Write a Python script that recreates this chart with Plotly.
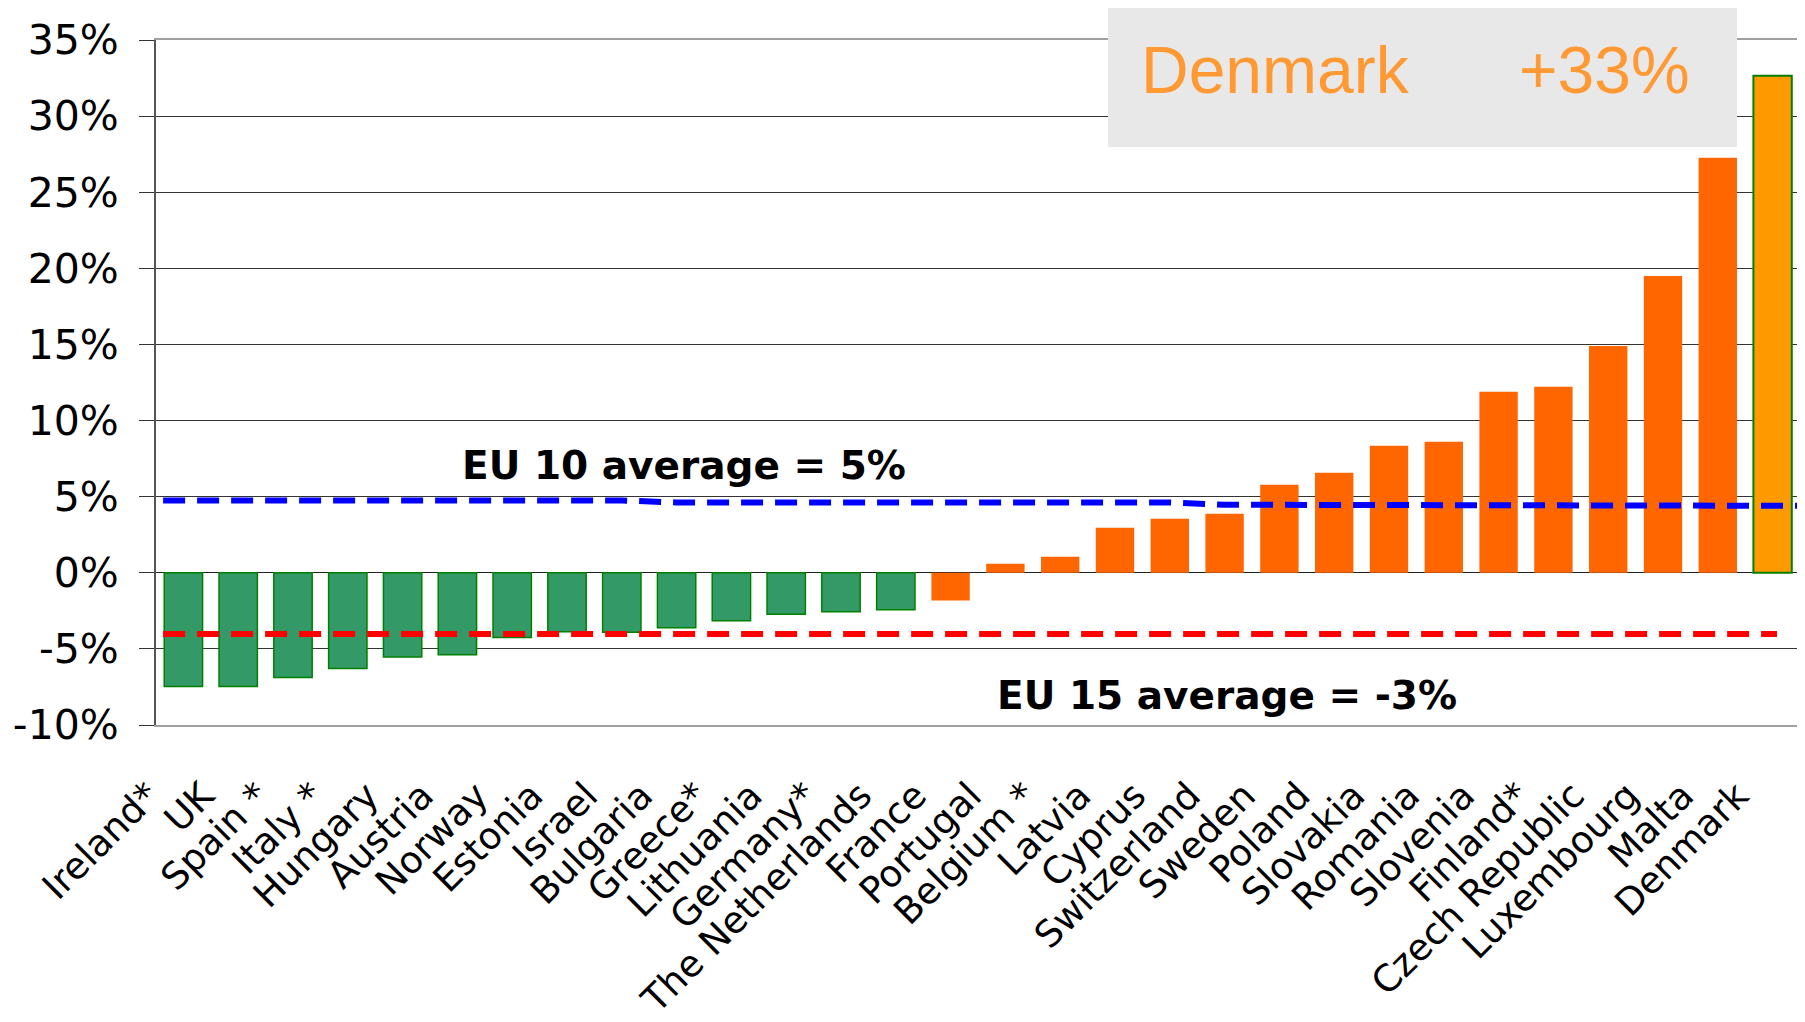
import plotly.graph_objects as go

countries = ["Ireland*", "UK", "Spain *", "Italy *", "Hungary", "Austria", "Norway",
             "Estonia", "Israel", "Bulgaria", "Greece*", "Lithuania", "Germany*",
             "The Netherlands", "France", "Portugal", "Belgium *", "Latvia", "Cyprus",
             "Switzerland", "Sweden", "Poland", "Slovakia", "Romania", "Slovenia",
             "Finland*", "Czech Republic", "Luxembourg", "Malta", "Denmark"]
values = [-7.47, -7.47, -6.88, -6.29, -5.54, -5.39, -4.25, -3.88, -3.90, -3.61,
          -3.15, -2.72, -2.56, -2.43, -1.82, 0.59, 1.05, 2.96, 3.55, 3.88,
          5.78, 6.57, 8.34, 8.60, 11.89, 12.22, 14.90, 19.50, 27.27, 32.65]
# group: 0 = falling (green), 1 = rising (orange), 2 = highlighted (Denmark)
groups = [0] * 14 + [1] * 15 + [2]

# dashed average lines as drawn in the picture (per category)
eu10_line = [4.75] * 9 + [4.62] * 10 + [4.47] * 10 + [4.40]
eu15_line = [-4.03] * 30

y_ticks = [-10, -5, 0, 5, 10, 15, 20, 25, 30, 35]
y_ticktext = ["-10%", "-5%", "0%", "5%", "10%", "15%", "20%", "25%", "30%", "35%"]

fill_cols = {0: "#339966", 1: "#FF6600", 2: "#FF9900"}
line_cols = {0: "#008000", 1: "#FF6600", 2: "#008000"}
line_wids = {0: 1.5, 1: 0, 2: 2}

idx = list(range(len(countries)))

fig = go.Figure()
fig.add_trace(go.Bar(
    x=idx, y=values, width=0.7,
    marker=dict(color=[fill_cols[g] for g in groups],
                line=dict(color=[line_cols[g] for g in groups],
                          width=[line_wids[g] for g in groups])),
    showlegend=False, hoverinfo="skip"))

fig.add_trace(go.Scatter(
    x=[-0.37] + idx + [29.5], y=[eu10_line[0]] + eu10_line + [eu10_line[-1]],
    mode="lines", line=dict(color="#0000FF", width=6, dash="22px,12px"),
    showlegend=False, hoverinfo="skip"))
fig.add_trace(go.Scatter(
    x=[-0.37] + idx + [29.08], y=[eu15_line[0]] + eu15_line + [eu15_line[-1]],
    mode="lines", line=dict(color="#FF0000", width=6, dash="22px,12px"),
    showlegend=False, hoverinfo="skip"))

# the page body adds an 8 px offset; layout is computed in screen pixels
OFF = 8
W, H = 1797, 1014
L, T = 156 - OFF, 40 - OFF
R = W - (1800 - OFF)
B = H - (725 - OFF)
pw, ph = W - L - R, H - T - B

def px_x(p):
    return (p - OFF - L) / pw

def px_y(p):
    return (H - B - (p - OFF)) / ph

fig.update_layout(
    width=W, height=H,
    margin=dict(l=L, r=R, t=T, b=B, pad=0, autoexpand=False),
    paper_bgcolor="white", plot_bgcolor="white",
    font=dict(family="DejaVu Sans", color="black"),
    bargap=0.3,
    xaxis=dict(range=[-0.5, 29.5], tickmode="array", tickvals=idx, ticktext=countries,
               tickangle=-45, tickfont=dict(size=37, family="DejaVu Sans", color="black"),
               ticklabelshift=-35, ticklabelstandoff=32, automargin=False,
               showgrid=False, zeroline=False, showline=True, linecolor="#a0a0a0",
               linewidth=2, mirror=True, ticks=""),
    yaxis=dict(range=[-10, 35], tickmode="array", tickvals=y_ticks, ticktext=y_ticktext,
               tickfont=dict(size=41, family="DejaVu Sans", color="black"),
               ticks="outside", ticklen=15, tickcolor="#333333", tickwidth=1,
               ticklabelstandoff=12, automargin=False,
               showgrid=True, gridcolor="#333333", gridwidth=1,
               zeroline=True, zerolinecolor="#222222", zerolinewidth=1,
               showline=True, linecolor="#555555", linewidth=2),
    shapes=[
        dict(type="line", xref="paper", yref="paper", x0=1, x1=1, y0=0, y1=1,
             line=dict(color="#a0a0a0", width=3)),
        dict(type="rect", xref="paper", yref="paper",
             x0=px_x(1108), x1=px_x(1737), y0=px_y(147), y1=px_y(5),
             fillcolor="#E8E8E8", line=dict(width=0), layer="above"),
    ],
    annotations=[
        dict(text="<b>EU 10 average = 5%</b>", xref="paper", yref="paper",
             x=px_x(684), y=px_y(465), xanchor="center", yanchor="middle",
             showarrow=False, font=dict(size=39, family="DejaVu Sans", color="black")),
        dict(text="<b>EU 15 average = -3%</b>", xref="paper", yref="paper",
             x=px_x(1227), y=px_y(695), xanchor="center", yanchor="middle",
             showarrow=False, font=dict(size=39, family="DejaVu Sans", color="black")),
        dict(text="Denmark", xref="paper", yref="paper",
             x=px_x(1139), y=px_y(70), xanchor="left", yanchor="middle",
             showarrow=False, font=dict(size=66, family="Liberation Sans", color="#FF9933")),
        dict(text="+33%", xref="paper", yref="paper",
             x=px_x(1692), y=px_y(70), xanchor="right", yanchor="middle",
             showarrow=False, font=dict(size=66, family="Liberation Sans", color="#FF9933")),
    ],
)

fig.write_html("out.html")
